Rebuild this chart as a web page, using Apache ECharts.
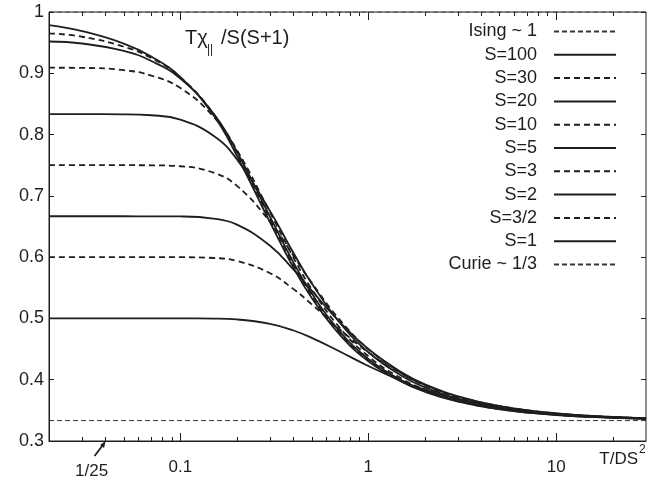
<!DOCTYPE html>
<html>
<head>
<meta charset="utf-8">
<script src="https://cdn.jsdelivr.net/npm/echarts@6/dist/echarts.min.js"></script>
<style>
  html, body { margin: 0; padding: 0; background: #fff; }
  #chart { width: 648px; height: 486px; }
</style>
</head>
<body>
<div id="chart"></div>
<script>
// reduced temperature T/DS^2 (log axis)
var tValues = [0.02, 0.03, 0.05, 0.07, 0.1, 0.15, 0.2, 0.3, 0.4, 0.5, 0.7, 1, 1.5, 2, 3, 5, 10, 20, 30];

// T chi_par / S(S+1), one array per spin
var s100 = [0.9786, 0.9688, 0.9485, 0.9273, 0.8937, 0.8315, 0.7651, 0.6567, 0.5826, 0.5333, 0.4744, 0.4302, 0.3966, 0.3802, 0.3642, 0.3516, 0.3424, 0.3378, 0.3363];
var s30 = [0.9652, 0.9596, 0.9435, 0.9248, 0.8934, 0.8340, 0.7697, 0.6622, 0.5877, 0.5376, 0.4777, 0.4325, 0.3981, 0.3813, 0.3649, 0.3520, 0.3426, 0.3380, 0.3364];
var s20 = [0.9519, 0.9486, 0.9365, 0.9200, 0.8915, 0.8345, 0.7719, 0.6656, 0.5909, 0.5405, 0.4798, 0.4340, 0.3991, 0.3820, 0.3654, 0.3523, 0.3427, 0.3380, 0.3365];
var s10 = [0.9091, 0.9088, 0.9051, 0.8963, 0.8759, 0.8293, 0.7747, 0.6730, 0.5990, 0.5479, 0.4857, 0.4382, 0.4019, 0.3841, 0.3667, 0.3531, 0.3431, 0.3382, 0.3366];
var s5 = [0.8333, 0.8333, 0.8331, 0.8315, 0.8243, 0.7981, 0.7593, 0.6751, 0.6067, 0.5570, 0.4942, 0.4448, 0.4065, 0.3876, 0.3691, 0.3545, 0.3438, 0.3386, 0.3368];
var s3 = [0.75, 0.75, 0.75, 0.7499, 0.7483, 0.7378, 0.7163, 0.6577, 0.6021, 0.5580, 0.4988, 0.4498, 0.4105, 0.3908, 0.3713, 0.3559, 0.3445, 0.3389, 0.3371];
var s2 = [0.6667, 0.6667, 0.6667, 0.6666, 0.6664, 0.6629, 0.6530, 0.6186, 0.5796, 0.5453, 0.4949, 0.4500, 0.4121, 0.3925, 0.3727, 0.3569, 0.3451, 0.3392, 0.3372];
var s3half = [0.6, 0.6, 0.6, 0.6, 0.5999, 0.5986, 0.5938, 0.5738, 0.5478, 0.5229, 0.4830, 0.4446, 0.4101, 0.3916, 0.3726, 0.3570, 0.3452, 0.3393, 0.3373];
var s1 = [0.5, 0.5, 0.5, 0.5, 0.5, 0.4997, 0.4983, 0.4912, 0.4803, 0.4683, 0.4465, 0.4223, 0.3979, 0.3837, 0.3681, 0.3548, 0.3443, 0.3388, 0.3370];

// limiting values
var isingLevel = 1;
var curieLevel = 0.3333;

// axes
var xRange = [0.02, 30];
var xLabelTicks = [0.1, 1, 10];
var xMinorTicks = [0.03, 0.04, 0.05, 0.06, 0.07, 0.08, 0.09,
  0.2, 0.3, 0.4, 0.5, 0.6, 0.7, 0.8, 0.9,
  2, 3, 4, 5, 6, 7, 8, 9, 20];
var yRange = [0.3, 1];
var yStep = 0.1;
var arrowAt = 0.04; // 1/25

var ink = "#1e1e1e";
var font = "'Liberation Sans', Arial, sans-serif";

function pairs(ys) {
  return tValues.map(function (t, i) { return [t, ys[i]]; });
}
function flat(level) {
  return [[xRange[0], level], [xRange[1], level]];
}

function curve(name, ys, dashed) {
  return {
    name: name,
    type: "line",
    data: pairs(ys),
    symbol: "none",
    smooth: 0.45,
    lineStyle: { color: ink, width: 1.8, type: dashed ? [6, 4] : "solid" },
    itemStyle: { color: ink },
    z: 3
  };
}
function limitLine(name, level) {
  return {
    name: name,
    type: "line",
    data: flat(level),
    symbol: "none",
    lineStyle: { color: "#333", width: 1, type: [5, 3] },
    itemStyle: { color: "#333" },
    z: 2
  };
}

function xAxisPart(pos, ticks, len, withLabels) {
  return {
    type: "log",
    logBase: 10,
    position: pos,
    min: xRange[0],
    max: xRange[1],
    axisLine: { show: withLabels, lineStyle: { color: ink, width: 1 } },
    axisTick: { show: true, inside: true, length: len, customValues: ticks, lineStyle: { color: ink, width: 1 } },
    axisLabel: withLabels ? {
      customValues: xLabelTicks,
      margin: 18,
      color: ink,
      fontSize: 17,
      fontFamily: font,
      formatter: function (v) { return String(+(+v).toPrecision(3)); }
    } : { show: false },
    splitLine: { show: false },
    minorTick: { show: false }
  };
}

var myChart = echarts.init(document.getElementById("chart"));

var option = {
  backgroundColor: "#fff",
  animation: false,
  grid: {
    left: 49, right: 2, top: 12, bottom: 45,
    show: true,
    borderColor: ink,
    borderWidth: 1
  },
  legend: {
    orient: "vertical",
    right: 31,
    top: 22.5,
    padding: 0,
    align: "right",
    itemWidth: 62,
    itemHeight: 14,
    itemGap: 5.3,
    itemStyle: { opacity: 0, color: "transparent", borderColor: "transparent", borderWidth: 0 },
    textStyle: { color: ink, fontSize: 18, fontFamily: font, lineHeight: 18, padding: [0, 12, 0, 0] },
    data: ["Ising ~ 1", "S=100", "S=30", "S=20", "S=10", "S=5", "S=3", "S=2", "S=3/2", "S=1", "Curie ~ 1/3"]
  },
  xAxis: [
    xAxisPart("bottom", xLabelTicks, 8, true),
    xAxisPart("bottom", xMinorTicks, 4, false),
    xAxisPart("top", xLabelTicks, 8, false),
    xAxisPart("top", xMinorTicks, 4, false)
  ],
  yAxis: [
    {
      type: "value",
      position: "left",
      min: yRange[0],
      max: yRange[1],
      interval: yStep,
      axisLine: { show: true, lineStyle: { color: ink, width: 1 } },
      axisTick: { show: true, inside: true, length: 5, lineStyle: { color: ink } },
      axisLabel: { color: ink, fontSize: 18, fontFamily: font, margin: 5 },
      splitLine: { show: false }
    },
    {
      type: "value",
      position: "right",
      min: yRange[0],
      max: yRange[1],
      interval: yStep,
      axisLine: { show: false },
      axisTick: { show: true, inside: true, length: 5, lineStyle: { color: ink } },
      axisLabel: { show: false },
      splitLine: { show: false }
    }
  ],
  series: [
    limitLine("Ising ~ 1", isingLevel),
    curve("S=100", s100, false),
    curve("S=30", s30, true),
    curve("S=20", s20, false),
    curve("S=10", s10, true),
    curve("S=5", s5, false),
    curve("S=3", s3, true),
    curve("S=2", s2, false),
    curve("S=3/2", s3half, true),
    curve("S=1", s1, false),
    limitLine("Curie ~ 1/3", curieLevel)
  ]
};

myChart.setOption(option);

// title, axis name and the 1/25 marker
var tip = myChart.convertToPixel({ xAxisIndex: 0, yAxisIndex: 0 }, [arrowAt, yRange[0]]);
var tx = tip[0], ty = tip[1];
var txtStyle = { fill: ink, fontFamily: font };

myChart.setOption({
  graphic: [
    { type: "text", left: 185, top: 28, style: Object.assign({ text: "T\u03c7", fontSize: 20 }, txtStyle) },
    { type: "text", left: 207, top: 44, style: Object.assign({ text: "||", fontSize: 12 }, txtStyle) },
    { type: "text", left: 221, top: 28, style: Object.assign({ text: "/S(S+1)", fontSize: 20 }, txtStyle) },
    { type: "text", right: 10, top: 451, style: Object.assign({ text: "T/DS", fontSize: 17 }, txtStyle) },
    { type: "text", left: 639, top: 444, style: Object.assign({ text: "2", fontSize: 12 }, txtStyle) },
    { type: "line", shape: { x1: tx - 11, y1: ty + 15, x2: tx - 2, y2: ty + 3 }, style: { stroke: ink, lineWidth: 1.8 } },
    { type: "polygon", shape: { points: [[tx, ty], [tx - 5.5, ty + 4], [tx - 1.5, ty + 7]] }, style: { fill: ink } },
    { type: "text", x: tx - 14, y: ty + 30, style: Object.assign({ text: "1/25", fontSize: 17, align: "center", verticalAlign: "middle" }, txtStyle) }
  ]
});

window.addEventListener("resize", function () {
  myChart.resize();
});
</script>
</body>
</html>
